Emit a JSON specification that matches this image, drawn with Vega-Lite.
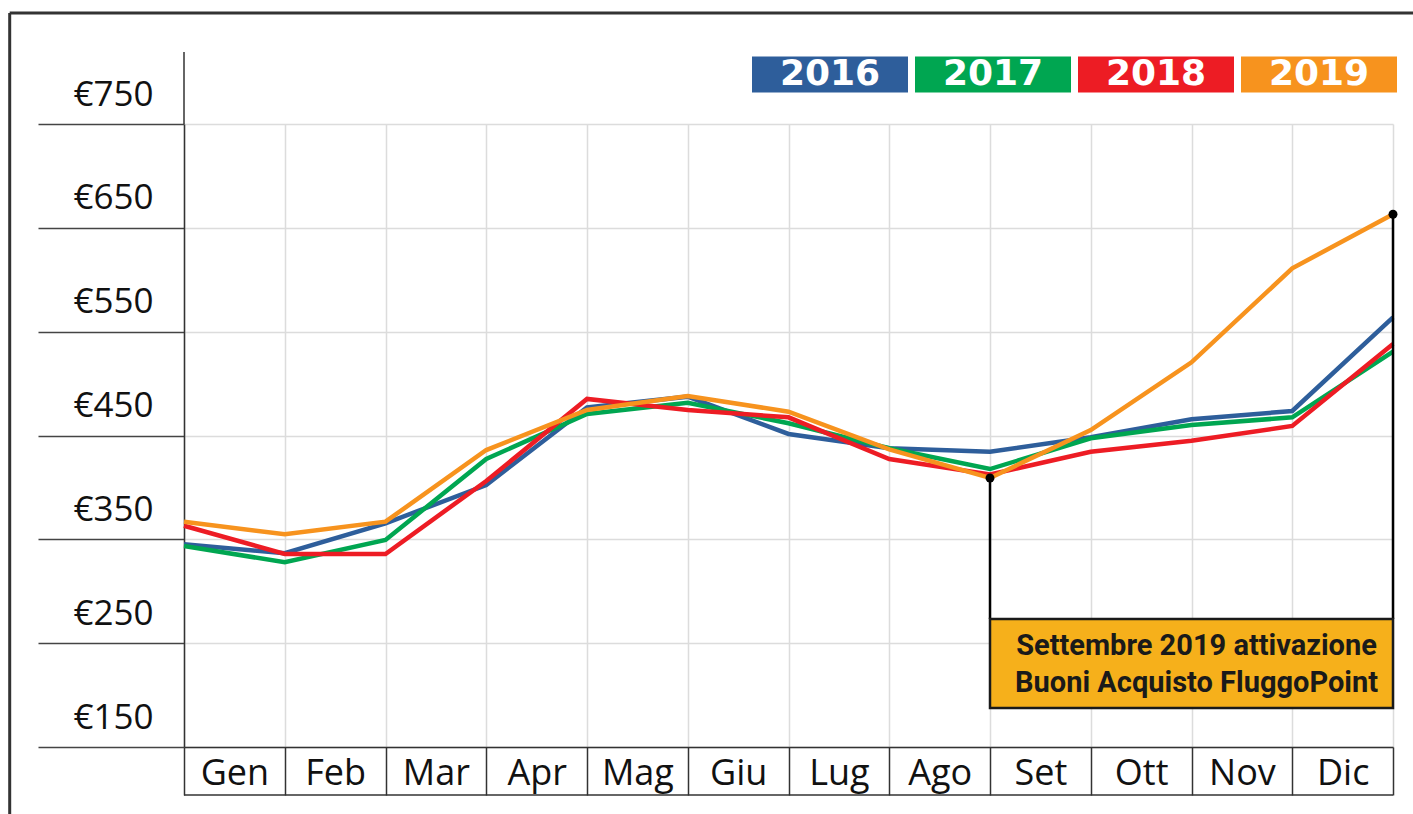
{
  "$schema": "https://vega.github.io/schema/vega-lite/v6.json",
  "width": 1209,
  "height": 623,
  "autosize": "none",
  "padding": {"left": 184, "top": 124, "right": 20, "bottom": 67},
  "background": "white",
  "config": {"view": {"stroke": null}, "font": "Open Sans"},
  "resolve": {"axis": {"x": "independent", "y": "independent"}},
  "datasets": {
    "prezzi": [
      {"anno": "2016", "t": 0, "valore": 345.2}, {"anno": "2016", "t": 1, "valore": 336.6}, {"anno": "2016", "t": 2, "valore": 365.4},
      {"anno": "2016", "t": 3, "valore": 402.3}, {"anno": "2016", "t": 4, "valore": 477.0}, {"anno": "2016", "t": 5, "valore": 487.4},
      {"anno": "2016", "t": 6, "valore": 451.5}, {"anno": "2016", "t": 7, "valore": 437.7}, {"anno": "2016", "t": 8, "valore": 434.4},
      {"anno": "2016", "t": 9, "valore": 448.3}, {"anno": "2016", "t": 10, "valore": 465.6}, {"anno": "2016", "t": 11, "valore": 473.6},
      {"anno": "2016", "t": 12, "valore": 563.8},
      {"anno": "2017", "t": 0, "valore": 343.6}, {"anno": "2017", "t": 1, "valore": 327.9}, {"anno": "2017", "t": 2, "valore": 349.4},
      {"anno": "2017", "t": 3, "valore": 427.4}, {"anno": "2017", "t": 4, "valore": 470.7}, {"anno": "2017", "t": 5, "valore": 481.6},
      {"anno": "2017", "t": 6, "valore": 461.8}, {"anno": "2017", "t": 7, "valore": 437.7}, {"anno": "2017", "t": 8, "valore": 417.7},
      {"anno": "2017", "t": 9, "valore": 447.3}, {"anno": "2017", "t": 10, "valore": 460.1}, {"anno": "2017", "t": 11, "valore": 467.5},
      {"anno": "2017", "t": 12, "valore": 530.7},
      {"anno": "2018", "t": 0, "valore": 363.1}, {"anno": "2018", "t": 1, "valore": 335.9}, {"anno": "2018", "t": 2, "valore": 335.9},
      {"anno": "2018", "t": 3, "valore": 406.2}, {"anno": "2018", "t": 4, "valore": 485.2}, {"anno": "2018", "t": 5, "valore": 474.6},
      {"anno": "2018", "t": 6, "valore": 467.5}, {"anno": "2018", "t": 7, "valore": 427.4}, {"anno": "2018", "t": 8, "valore": 412.4},
      {"anno": "2018", "t": 9, "valore": 434.4}, {"anno": "2018", "t": 10, "valore": 445.0}, {"anno": "2018", "t": 11, "valore": 459.2},
      {"anno": "2018", "t": 12, "valore": 538.1},
      {"anno": "2019", "t": 0, "valore": 367.0}, {"anno": "2019", "t": 1, "valore": 354.9}, {"anno": "2019", "t": 2, "valore": 367.0},
      {"anno": "2019", "t": 3, "valore": 436.0}, {"anno": "2019", "t": 4, "valore": 474.6}, {"anno": "2019", "t": 5, "valore": 488.1},
      {"anno": "2019", "t": 6, "valore": 472.9}, {"anno": "2019", "t": 7, "valore": 436.7}, {"anno": "2019", "t": 8, "valore": 409.1},
      {"anno": "2019", "t": 9, "valore": 455.3}, {"anno": "2019", "t": 10, "valore": 520.5}, {"anno": "2019", "t": 11, "valore": 611.0},
      {"anno": "2019", "t": 12, "valore": 663.1}
    ]
  },
  "layer": [
    {
      "data": {"name": "prezzi"},
      "mark": {"type": "line", "strokeWidth": 4.5, "strokeJoin": "miter"},
      "encoding": {
        "x": {
          "field": "t", "type": "quantitative",
          "scale": {"domain": [0, 12], "nice": false, "zero": false},
          "axis": {
            "orient": "bottom",
            "values": [0, 1, 2, 3, 4, 5, 6, 7, 8, 9, 10, 11, 12],
            "title": null,
            "domainColor": "#333333", "domainWidth": 1.5,
            "tickColor": "#333333", "tickWidth": 1.5, "tickSize": 48,
            "grid": true, "gridColor": "#dcdcdc", "gridWidth": 1.5,
            "labelExpr": "['Gen','Feb','Mar','Apr','Mag','Giu','Lug','Ago','Set','Ott','Nov','Dic',''][datum.value]",
            "labelOffset": 50.4, "labelPadding": -11, "labelBaseline": "alphabetic", "labelAlign": "center",
            "labelFont": "Open Sans", "labelFontSize": 36, "labelColor": "#111111",
            "labelFlush": false, "labelOverlap": false, "labelBound": false
          }
        },
        "y": {
          "field": "valore", "type": "quantitative",
          "scale": {"domain": [150, 750], "nice": false, "zero": false},
          "axis": {
            "orient": "left",
            "values": [150, 250, 350, 450, 550, 650, 750],
            "title": null,
            "domainColor": "#333333", "domainWidth": 1.5,
            "tickColor": "#444444", "tickWidth": 1.5, "tickSize": 146,
            "grid": true, "gridColor": "#dcdcdc", "gridWidth": 1.5,
            "labelExpr": "'€' + datum.value",
            "labelAlign": "right", "labelBaseline": "alphabetic", "labelOffset": -19, "labelPadding": -115,
            "labelFont": "Open Sans", "labelFontSize": 35, "labelColor": "#111111",
            "labelFlush": false, "labelOverlap": false, "labelBound": false
          }
        },
        "color": {
          "field": "anno", "type": "nominal",
          "scale": {"domain": ["2016", "2017", "2018", "2019"], "range": ["#2E5E9B", "#00A651", "#ED1C24", "#F7931E"]},
          "legend": {
            "title": null, "orient": "none", "direction": "horizontal",
            "legendX": 568, "legendY": -128, "padding": 0, "offset": 0,
            "columnPadding": 7,
            "symbolType": "M-1,-0.2308H1V0.2308H-1Z", "symbolSize": 24336,
            "symbolStrokeWidth": 0, "symbolOpacity": 1,
            "labelColor": "white", "labelFont": "DejaVu Sans", "labelFontWeight": "bold", "labelFontSize": 36,
            "labelAlign": "center", "labelBaseline": "middle", "labelOffset": -78,
            "encode": {"symbols": {"update": {"fill": {"scale": "color", "field": "value"}, "opacity": {"value": 1}, "strokeWidth": {"value": 0}}}}
          }
        }
      }
    },
    {
      "data": {"values": [{}]},
      "mark": {"type": "rule", "color": "#333333", "strokeWidth": 3},
      "encoding": {
        "x": {"datum": -1.73, "type": "quantitative", "axis": null},
        "x2": {"datum": 12.3},
        "y": {"datum": 856.9, "type": "quantitative", "axis": null}
      }
    },
    {
      "data": {"values": [{}]},
      "mark": {"type": "rule", "color": "#333333", "strokeWidth": 3},
      "encoding": {
        "x": {"datum": -1.73, "type": "quantitative", "axis": null},
        "y": {"datum": 856.9, "type": "quantitative", "axis": null},
        "y2": {"datum": 80}
      }
    },
    {
      "data": {"values": [{}]},
      "mark": {"type": "rule", "color": "#333333", "strokeWidth": 1.5},
      "encoding": {
        "x": {"datum": 0, "type": "quantitative", "axis": null},
        "y": {"datum": 750, "type": "quantitative", "axis": null},
        "y2": {"datum": 819.4}
      }
    },
    {
      "data": {"values": [{}]},
      "mark": {"type": "rule", "color": "#333333", "strokeWidth": 1.5},
      "encoding": {
        "x": {"datum": 0, "type": "quantitative", "axis": null},
        "x2": {"datum": 12},
        "y": {"datum": 103.8, "type": "quantitative", "axis": null}
      }
    },
    {
      "data": {"name": "prezzi"},
      "transform": [{"filter": "datum.anno === '2019' && (datum.t === 8 || datum.t === 12)"}],
      "mark": {"type": "rule", "color": "#000000", "strokeWidth": 2.5},
      "encoding": {
        "x": {"field": "t", "type": "quantitative", "axis": null},
        "y": {"field": "valore", "type": "quantitative", "axis": null},
        "y2": {"datum": 273.3}
      }
    },
    {
      "data": {"values": [{}]},
      "mark": {"type": "rect", "fill": "#F6B01B", "stroke": "#1a1a1a", "strokeWidth": 2.5},
      "encoding": {
        "x": {"datum": 8, "type": "quantitative", "axis": null},
        "x2": {"datum": 12},
        "y": {"datum": 273.3, "type": "quantitative", "axis": null},
        "y2": {"datum": 187.6}
      }
    },
    {
      "data": {"name": "prezzi"},
      "transform": [{"filter": "datum.anno === '2019' && (datum.t === 8 || datum.t === 12)"}],
      "mark": {"type": "point", "filled": true, "color": "#000000", "size": 80, "opacity": 1},
      "encoding": {
        "x": {"field": "t", "type": "quantitative", "axis": null},
        "y": {"field": "valore", "type": "quantitative", "axis": null}
      }
    },
    {
      "data": {"values": [{}]},
      "mark": {
        "type": "text",
        "text": ["Settembre 2019 attivazione", "Buoni Acquisto FluggoPoint"],
        "font": "Roboto", "fontWeight": "bold", "fontSize": 29,
        "color": "#1a1a1a", "align": "center", "baseline": "alphabetic", "lineHeight": 37
      },
      "encoding": {
        "x": {"datum": 10.05, "type": "quantitative", "axis": null},
        "y": {"datum": 238.6, "type": "quantitative", "axis": null}
      }
    }
  ]
}
